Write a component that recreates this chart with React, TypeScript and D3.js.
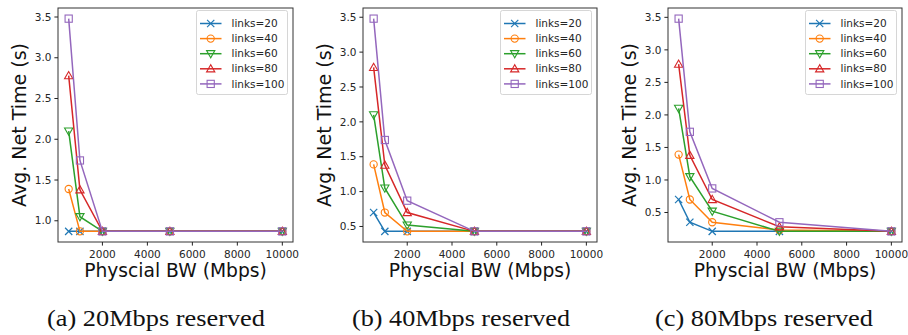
import React from 'react';
import * as d3 from 'd3';

// physical bandwidth (Mbps) on the x axis
const bandwidths = [500, 1000, 2000, 5000, 10000];
const seriesNames = ['links=20', 'links=40', 'links=60', 'links=80', 'links=100'];
const seriesColors = ['#1f77b4', '#ff7f0e', '#2ca02c', '#d62728', '#9467bd'];
const seriesMarkers = ['x', 'circle', 'triDown', 'triUp', 'square'];
const xTicks = [2000, 4000, 6000, 8000, 10000];

// avg net time (s), one row per link count
const reserved20 = [
  [0.87, 0.87, 0.87, 0.87, 0.87],
  [1.39, 0.87, 0.87, 0.87, 0.87],
  [2.1, 1.05, 0.87, 0.87, 0.87],
  [2.78, 1.38, 0.87, 0.87, 0.87],
  [3.48, 1.74, 0.87, 0.87, 0.87],
];
const reserved40 = [
  [0.7, 0.43, 0.43, 0.43, 0.43],
  [1.39, 0.7, 0.43, 0.43, 0.43],
  [2.1, 1.05, 0.52, 0.43, 0.43],
  [2.78, 1.38, 0.7, 0.43, 0.43],
  [3.48, 1.74, 0.87, 0.43, 0.43],
];
const reserved80 = [
  [0.7, 0.35, 0.21, 0.21, 0.21],
  [1.39, 0.7, 0.35, 0.23, 0.21],
  [2.1, 1.05, 0.52, 0.21, 0.21],
  [2.78, 1.38, 0.7, 0.28, 0.21],
  [3.48, 1.74, 0.87, 0.35, 0.21],
];
const yTicksA = [1.0, 1.5, 2.0, 2.5, 3.0, 3.5];
const yTicksB = [0.5, 1.0, 1.5, 2.0, 2.5, 3.0, 3.5];
const captions = ['(a) 20Mbps reserved', '(b) 40Mbps reserved', '(c) 80Mbps reserved'];

const sans = 'DejaVu Sans, sans-serif';

const Marker = ({ kind, x, y, color }) => {
  const s = 3.6;
  if (kind === 'x') {
    return (
      <g stroke={color} strokeWidth={1.2}>
        <line x1={x - s} y1={y - s} x2={x + s} y2={y + s} />
        <line x1={x - s} y1={y + s} x2={x + s} y2={y - s} />
      </g>
    );
  }
  if (kind === 'circle') return <circle cx={x} cy={y} r={s} fill="none" stroke={color} strokeWidth={1.1} />;
  if (kind === 'square') return <rect x={x - s} y={y - s} width={2 * s} height={2 * s} fill="none" stroke={color} strokeWidth={1.1} />;
  const t = s * 1.15;
  const pts = kind === 'triUp'
    ? `${x},${y - t} ${x - t},${y + t * 0.75} ${x + t},${y + t * 0.75}`
    : `${x},${y + t} ${x - t},${y - t * 0.75} ${x + t},${y - t * 0.75}`;
  return <polygon points={pts} fill="none" stroke={color} strokeWidth={1.1} />;
};

const Panel = ({ left, right, top, bottom, rows, yTicks, caption, captionX }) => {
  const xs = d3.scaleLinear().domain([25, 10475]).range([left, right]);
  const all = rows.flat();
  const [mn, mx] = d3.extent(all) as [number, number];
  const pad = (mx - mn) * 0.05;
  const ys = d3.scaleLinear().domain([mn - pad, mx + pad]).range([bottom, top]);
  const line = d3.line<number>().x((_, i) => xs(bandwidths[i])).y(d => ys(d));
  const legLeft = right - 5.5 - 91;
  const legTop = top + 2.5;
  return (
    <g>
      <defs>
        <clipPath id={`clip${left}`}>
          <rect x={left} y={top} width={right - left} height={bottom - top} />
        </clipPath>
      </defs>
      <g clipPath={`url(#clip${left})`}>
        {rows.map((r, si) => (
          <g key={si}>
            <path d={line(r) || ''} fill="none" stroke={seriesColors[si]} strokeWidth={1.5} />
            {r.map((v, i) => (
              <Marker key={i} kind={seriesMarkers[si]} x={xs(bandwidths[i])} y={ys(v)} color={seriesColors[si]} />
            ))}
          </g>
        ))}
      </g>
      <rect x={left} y={top} width={right - left} height={bottom - top} fill="none" stroke="#333" strokeWidth={1} />
      {xTicks.map(t => (
        <g key={t}>
          <line x1={xs(t)} x2={xs(t)} y1={bottom} y2={bottom + 3.6} stroke="#222" />
          <text x={xs(t)} y={bottom + 15.5} textAnchor="middle" fontSize={10.5} fontFamily={sans} fill="#262626">{t}</text>
        </g>
      ))}
      {yTicks.map(t => (
        <g key={t}>
          <line x1={left - 3.6} x2={left} y1={ys(t)} y2={ys(t)} stroke="#222" />
          <text x={left - 6.5} y={ys(t)} dy="0.35em" textAnchor="end" fontSize={10.5} fontFamily={sans} fill="#262626">{t.toFixed(1)}</text>
        </g>
      ))}
      <text x={(left + right) / 2} y={277} textAnchor="middle" fontSize={18.7} fontFamily={sans} fill="#111">Physcial BW (Mbps)</text>
      <text transform={`translate(${left - 39},${(top + bottom) / 2}) rotate(-90)`} dy="0.35em" textAnchor="middle" fontSize={19} fontFamily={sans} fill="#111">Avg. Net Time (s)</text>
      <rect x={legLeft} y={legTop} width={91} height={84} rx={2} fill="white" fillOpacity={0.8} stroke="#cccccc" strokeWidth={0.8} />
      {seriesNames.map((n, i) => {
        const yy = legTop + 13 + i * 15.1;
        return (
          <g key={n}>
            <line x1={legLeft + 3.5} x2={legLeft + 25} y1={yy} y2={yy} stroke={seriesColors[i]} strokeWidth={1.5} />
            <Marker kind={seriesMarkers[i]} x={legLeft + 14.2} y={yy} color={seriesColors[i]} />
            <text x={legLeft + 35} y={yy} dy="0.35em" fontSize={10.5} fontFamily={sans} fill="#262626">{n}</text>
          </g>
        );
      })}
      <text x={captionX} y={326} textAnchor="middle" fontSize={24} textLength={218} lengthAdjust="spacingAndGlyphs" fontFamily="Liberation Serif, serif" fill="#111">{caption}</text>
    </g>
  );
};

export default function App() {
  return (
    <div style={{ position: 'absolute', left: 0, top: 0 }}>
      <svg width={908} height={335} style={{ display: 'block', background: 'white' }}>
        <Panel left={58} right={293} top={8} bottom={242} rows={reserved20} yTicks={yTicksA} caption={captions[0]} captionX={156} />
        <Panel left={363} right={597} top={8} bottom={242} rows={reserved40} yTicks={yTicksB} caption={captions[1]} captionX={461} />
        <Panel left={668} right={902} top={8} bottom={242} rows={reserved80} yTicks={yTicksB} caption={captions[2]} captionX={764} />
      </svg>
    </div>
  );
}
